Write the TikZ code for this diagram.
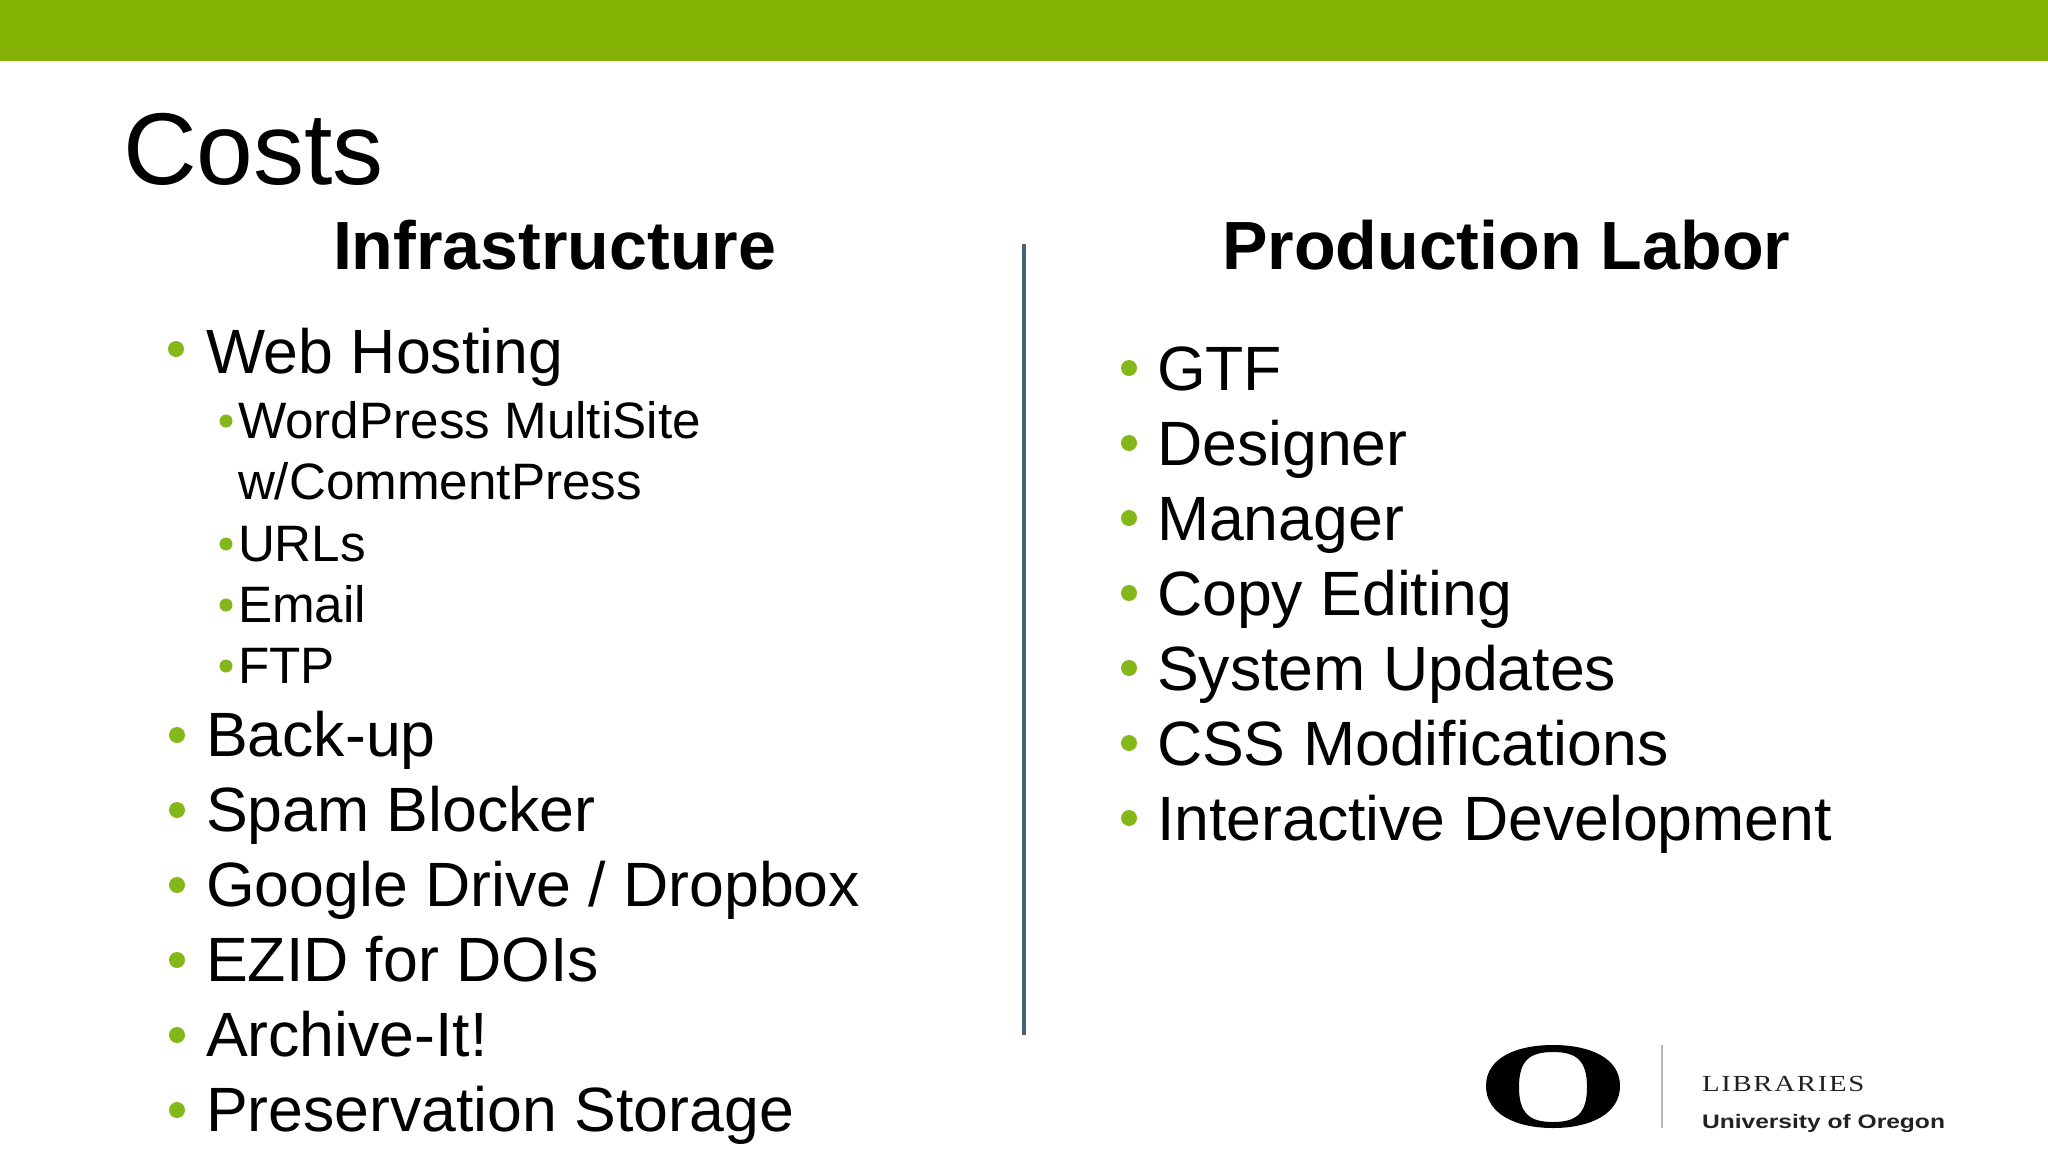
\documentclass[tikz,border=0pt]{standalone}
\usepackage{fontspec}
\setmainfont{Liberation Sans}
\newfontfamily\logoserif{Liberation Serif}[LetterSpace=6]
\definecolor{barGreen}{HTML}{84B306}
\definecolor{dotGreen}{HTML}{84B81A}
\definecolor{slateLine}{HTML}{4A6076}
\definecolor{logoGrey}{HTML}{B4B4B4}
\definecolor{logoText}{HTML}{222222}
\tikzset{
  txt/.style={inner sep=0pt,outer sep=0pt,anchor=base west,text=black},
  title/.style={txt,font=\fontsize{102}{102}\selectfont},
  head/.style={txt,font=\fontsize{68.2}{68}\selectfont\bfseries},
  itemL/.style={txt,font=\fontsize{62.6}{62}\selectfont},
  itemS/.style={txt,font=\fontsize{51.2}{51}\selectfont},
  dotL/.style={fill=dotGreen,draw=none,circle,minimum size=16pt,inner sep=0pt},
  dotS/.style={fill=dotGreen,draw=none,circle,minimum size=13pt,inner sep=0pt},
}
\begin{document}
\begin{tikzpicture}[x=1pt,y=-1pt]
\useasboundingbox (0,0) rectangle (2048,1152);
\fill[white] (0,0) rectangle (2048,1152);
\fill[barGreen] (0,0) rectangle (2048,61);
\node[title] (costs) at (123,184) {Costs};
\node[head] (infra) at (333,269) {Infrastructure};
\node[head] (prod) at (1222,269) {Production Labor};
\coordinate (divtop) at (1024,244);
\coordinate (divbot) at (1024,1035);
\draw[slateLine,line width=3.5pt] (divtop) -- (divbot);
% left column
\node[itemL] (web) at (206,373) {Web Hosting};
\node[dotL] at (176,349) {};
\node[itemS] (wp) at (238,438) {WordPress MultiSite};
\node[dotS] at (226,421) {};
\node[itemS] (wc) at (238,499) {w/CommentPress};
\node[itemS] (urls) at (238,561) {URLs};
\node[dotS] at (226,544) {};
\node[itemS] (email) at (238,622) {Email};
\node[dotS] at (226,605) {};
\node[itemS] (ftp) at (238,683) {FTP};
\node[dotS] at (226,666) {};
\node[itemL] (backup) at (206,756) {Back-up};
\node[dotL] at (177,735) {};
\node[itemL] (spam) at (206,831) {Spam Blocker};
\node[dotL] at (177,810) {};
\node[itemL] (google) at (206,906) {Google Drive / Dropbox};
\node[dotL] at (177,885) {};
\node[itemL] (ezid) at (206,981) {EZID for DOIs};
\node[dotL] at (177,960) {};
\node[itemL] (arch) at (206,1056) {Archive-It!};
\node[dotL] at (177,1035) {};
\node[itemL] (pres) at (206,1131) {Preservation Storage};
\node[dotL] at (177,1110) {};
% right column
\node[itemL] (gtf) at (1157,390) {GTF};
\node[dotL] at (1129,368) {};
\node[itemL] (des) at (1157,465) {Designer};
\node[dotL] at (1129,443) {};
\node[itemL] (man) at (1157,540) {Manager};
\node[dotL] at (1129,518) {};
\node[itemL] (copy) at (1157,615) {Copy Editing};
\node[dotL] at (1129,593) {};
\node[itemL] (sys) at (1157,690) {System Updates};
\node[dotL] at (1129,668) {};
\node[itemL] (css) at (1157,765) {CSS Modifications};
\node[dotL] at (1129,743) {};
\node[itemL] (inter) at (1157,840) {Interactive Development};
\node[dotL] at (1129,818) {};
% logo
\fill[black,even odd rule]
  (1486,1086) .. controls (1486,1058) and (1516,1045) .. (1553,1045)
  .. controls (1590,1045) and (1620,1058) .. (1620,1086)
  .. controls (1620,1114) and (1590,1128) .. (1553,1128)
  .. controls (1516,1128) and (1486,1114) .. (1486,1086) -- cycle
  (1519,1087) .. controls (1519,1060) and (1530,1052) .. (1553,1052)
  .. controls (1576,1052) and (1587,1060) .. (1587,1087)
  .. controls (1587,1114) and (1576,1122) .. (1553,1122)
  .. controls (1530,1122) and (1519,1114) .. (1519,1087) -- cycle;
\draw[logoGrey,line width=2.5pt] (1662,1045) -- (1662,1128);
\node[txt,text=logoText,xscale=1.25,font=\fontsize{23}{23}\logoserif] (lib) at (1702,1091) {LIBRARIES};
\node[txt,text=logoText,xscale=1.26,font=\fontsize{19.5}{20}\selectfont\bfseries] (uo) at (1702,1128) {University of Oregon};
\end{tikzpicture}
\end{document}
